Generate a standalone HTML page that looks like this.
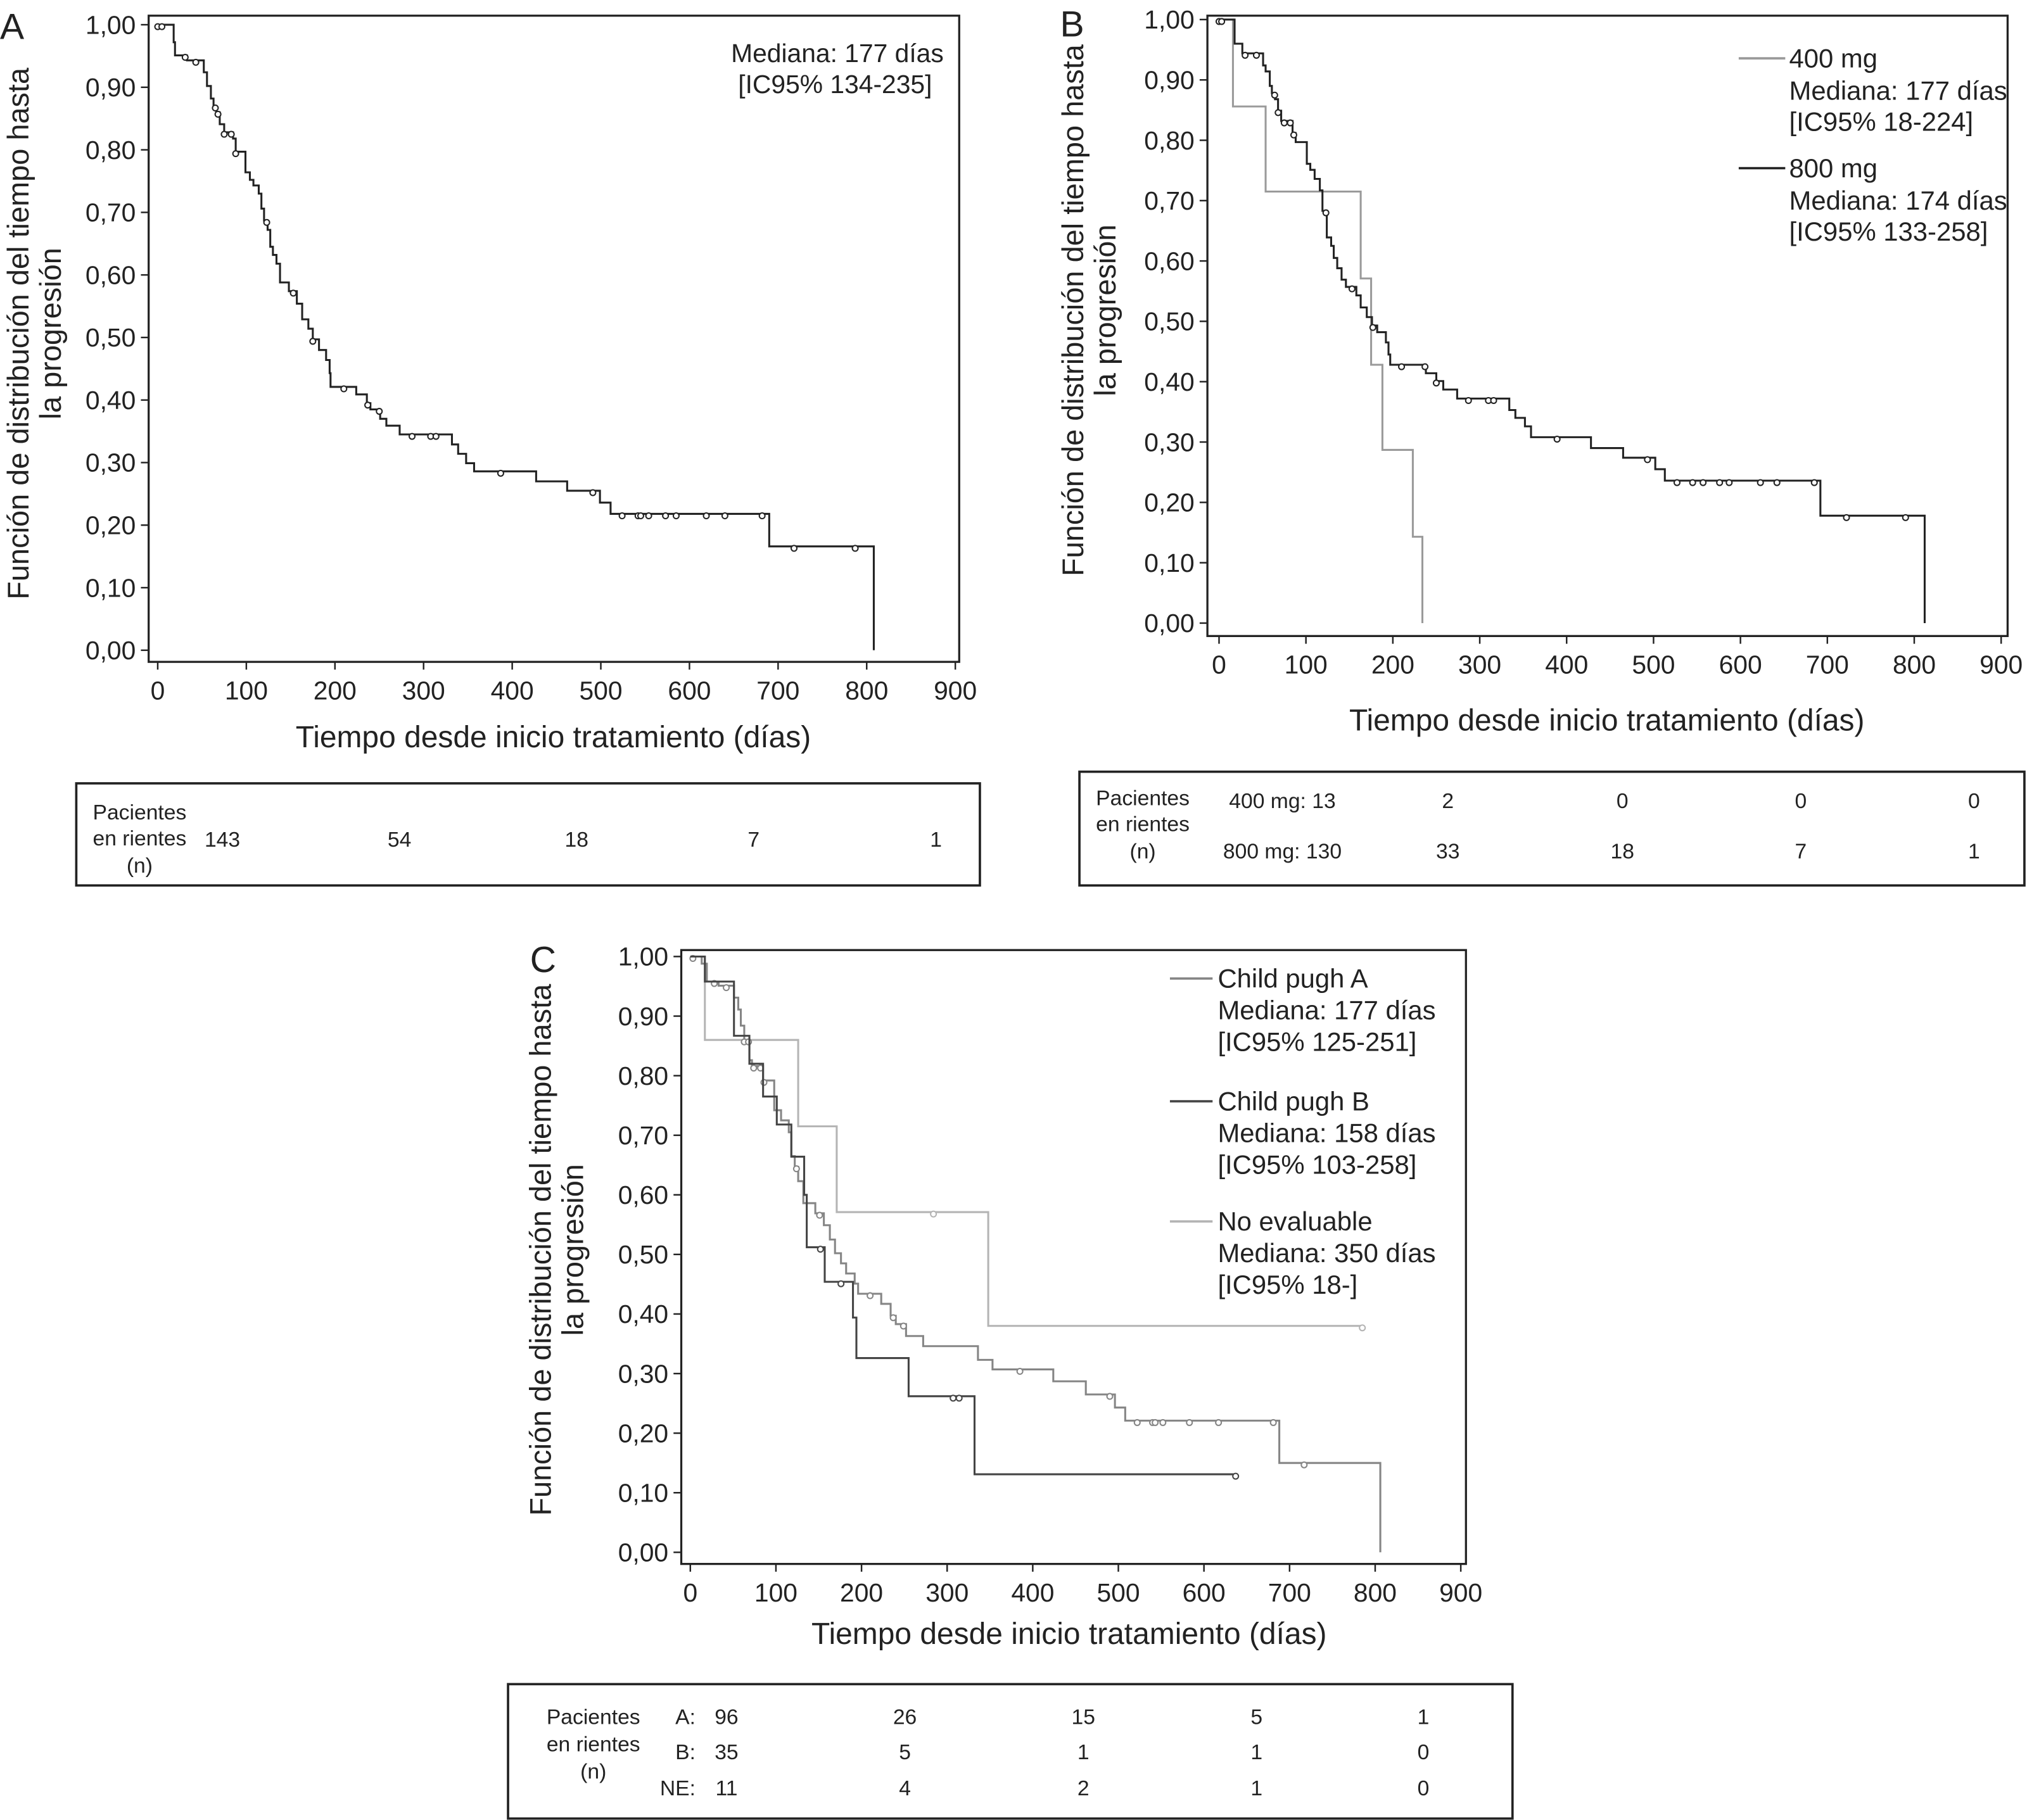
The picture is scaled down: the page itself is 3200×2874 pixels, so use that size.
<!DOCTYPE html>
<html><head><meta charset="utf-8"><style>
html,body{margin:0;padding:0;background:#fff;}
svg{display:block;}
text{font-family:"Liberation Sans",sans-serif;fill:#222;}
</style></head><body>
<svg id="s" width="3200" height="2874" viewBox="0 0 1568 1408" xmlns="http://www.w3.org/2000/svg">
<g id="root"></g>
</svg>
<script>
// ---------- Data ----------
const xTicks = [0,100,200,300,400,500,600,700,800,900];
const yTicks = [0,0.1,0.2,0.3,0.4,0.5,0.6,0.7,0.8,0.9,1.0];
const yTickLabels = ["0,00","0,10","0,20","0,30","0,40","0,50","0,60","0,70","0,80","0,90","1,00"];

// Panel A: step times (days) and survival after step
const aTimes = [18,19.5,33,52,55.6,60,63,66,70,75,85,88,99,104,108,114,117,120,124,127,130,134,138,148,157,163,170,175,182,190,194,195,224,236,240,251,258,273,332,339,348,357,427,462,499,511,690,808];
const aSurv  = [.972,.951,.943,.924,.902,.882,.870,.860,.841,.828,.818,.797,.764,.752,.743,.730,.706,.687,.672,.645,.632,.618,.588,.574,.554,.529,.514,.497,.480,.464,.443,.421,.409,.395,.385,.370,.359,.345,.329,.314,.299,.286,.270,.255,.236,.218,.166,0];
const aCens  = [0,4.7,31,43,65,68,75,83,88,123,153,175,210,237,250,287,308,314,387,491,524,542,545,554,573,585,619,640,682,718,787];

// Panel B
const b400Times = [16,53.6,163,175,188,223,234];
const b400Surv  = [.856,.715,.571,.428,.287,.143,0];
const b800Times = [17.9,26.8,50.7,53.6,58.4,60.8,64.4,67.9,71.5,84.6,88.2,101,105,110,116,119,124,129,132,136,141,146,158,163,170,176,182,192,195,197,238,250,258,274,334,341,352,359,428,465,502,513,692,812];
const b800Surv  = [.960,.944,.924,.914,.890,.878,.868,.849,.832,.812,.797,.761,.751,.736,.717,.683,.639,.625,.605,.588,.569,.557,.543,.523,.507,.493,.482,.465,.445,.428,.414,.401,.387,.372,.353,.340,.326,.308,.290,.274,.255,.236,.178,0];
const b800Cens  = [0,3,30,43,64,68,75,82,86,123,153,177,210,237,250,287,310,316,389,493,527,545,557,576,587,623,642,685,722,790];

// Panel C
const cATimes = [13.3,19.3,33,51,56,59,63,69,72,85,98,106,115,118,122,126,132,146,156,163,169,176,182,192,196,223,234,240,252,272,336,353,424,462,496,508,688,806];
const cASurv  = [.988,.958,.951,.931,.911,.884,.860,.826,.816,.792,.742,.725,.705,.665,.647,.623,.586,.569,.549,.525,.502,.485,.468,.451,.434,.417,.397,.383,.363,.346,.323,.307,.287,.265,.243,.221,.150,0];
const cACens  = [3,28,42,63,68,74,82,86,124,151,210,237,249,385,490,522,540,543,552,583,617,681,717];
const cBTimes = [17,51,69,85,101,118,133,136,157,190,194,255,332];
const cBSurv  = [.958,.867,.820,.765,.718,.664,.600,.512,.454,.394,.326,.262,.131];
const cBCens  = [152,176,307,314,637];
const cBEnd   = 637;
const cNTimes = [17,126,171,348];
const cNSurv  = [.860,.715,.571,.380];
const cNCens  = [284,785];
const cNEnd   = 785;

// ---------- Helpers ----------
const NS="http://www.w3.org/2000/svg";
const root=document.getElementById('root');
function mk(tag,attrs,parent){const e=document.createElementNS(NS,tag);for(const k in attrs)e.setAttribute(k,attrs[k]);(parent||root).appendChild(e);return e;}
function txt(str,x,y,size,anchor,parent){const t=mk('text',{x:x,y:y,'font-size':size,'text-anchor':anchor||'start'},parent);t.textContent=str;return t;}

function axes(p){
  const g=mk('g',{});
  
  
  const X=d=>p.x0+d*(p.x900-p.x0)/900, Y=s=>p.y0-s*(p.y0-p.y1);
  const fr=mk('rect',{x:p.bl,y:p.bt,width:p.br-p.bl,height:p.bb-p.bt,fill:'none',stroke:'#222','stroke-width':1.6},g);
  
  
  xTicks.forEach(v=>{
    mk('line',{x1:X(v),x2:X(v),y1:p.bb,y2:p.bb+6,stroke:'#222','stroke-width':1.2},g);
    const t=txt(String(v),X(v),p.bb+29,20,'middle',g);
    
    
  });
  yTicks.forEach((v,i)=>{
    mk('line',{x1:p.bl-6,x2:p.bl,y1:Y(v),y2:Y(v),stroke:'#222','stroke-width':1.2},g);
    const t=txt(yTickLabels[i],p.bl-10,Y(v)+7,20,'end',g);
    
    
  });
  const xt=txt('Tiempo desde inicio tratamiento (días)',p.xtx,p.xty,23.5,'middle',g);
  
  
  const yt=mk('text',{transform:`translate(${p.ytx},${p.yty}) rotate(-90)`,'font-size':23,'text-anchor':'middle'},g);
  
  
  const t1=mk('tspan',{x:0,y:0},yt);t1.textContent='Función de distribución del tiempo hasta';
  const t2=mk('tspan',{x:0,y:25},yt);t2.textContent='la progresión';
  const L=txt(p.letter,p.lx,p.ly,28,'start',g);
  
  
  return {X,Y};
}
function survAt(times,surv,t){let s=1;for(let i=0;i<times.length;i++){if(times[i]<=t)s=surv[i];}return s;}
function curve(ax,times,surv,cens,end,color,name,w){
  const {X,Y}=ax;
  let d=`M${X(0)},${Y(1)}`;
  times.forEach((t,i)=>{d+=` H${X(t)} V${Y(surv[i])}`;});
  if(end!=null)d+=` H${X(end)}`;
  const p=mk('path',{d:d,fill:'none',stroke:color,'stroke-width':w||1.5});
  
  
  cens.forEach(c=>{
    const ci=mk('circle',{cx:X(c),cy:Y(survAt(times,surv,c))+1.5,r:2.2,fill:'#fff',stroke:color,'stroke-width':1});
    
    
  });
}

// ---------- Panel A ----------
const axA=axes({name:'panel-a',bl:115,bt:12,br:742,bb:512,x0:122,x900:739,y0:503,y1:19,xtx:428,xty:578,ytx:22,yty:258,letter:'A',lx:0,ly:30});
curve(axA,aTimes,aSurv,aCens,null,'#222','panel-a');
txt('Mediana: 177 días',730,48,20,'end');
txt('[IC95% 134-235]',646,72,20,'middle');

// ---------- Panel B ----------
const axB=axes({name:'panel-b',bl:934,bt:12,br:1553,bb:492,x0:943,x900:1548,y0:482,y1:15,xtx:1243,xty:565,ytx:838,yty:240,letter:'B',lx:820,ly:28});
curve(axB,b400Times,b400Surv,[],null,'#9a9a9a','dose-400mg');
curve(axB,b800Times,b800Surv,b800Cens,null,'#222','dose-800mg');
mk('line',{x1:1345,x2:1381,y1:45,y2:45,stroke:'#9a9a9a','stroke-width':1.8});
txt('400 mg',1384,52,20.5);txt('Mediana: 177 días',1384,77,20.5);txt('[IC95% 18-224]',1384,101,20.5);
mk('line',{x1:1345,x2:1381,y1:130,y2:130,stroke:'#222','stroke-width':1.8});
txt('800 mg',1384,137,20.5);txt('Mediana: 174 días',1384,162,20.5);txt('[IC95% 133-258]',1384,186,20.5);

// ---------- Panel C ----------
const axC=axes({name:'panel-c',bl:527,bt:735,br:1134,bb:1210,x0:534,x900:1130,y0:1201,y1:740,xtx:827,xty:1272,ytx:426,yty:967,letter:'C',lx:410,ly:752});
curve(axC,cNTimes,cNSurv,cNCens,cNEnd,'#b4b4b4','no-evaluable');
curve(axC,cATimes,cASurv,cACens,null,'#858585','child-pugh-a');
curve(axC,cBTimes,cBSurv,cBCens,cBEnd,'#444','child-pugh-b');
[['#858585',757,['Child pugh A','Mediana: 177 días','[IC95% 125-251]']],
 ['#444',852,['Child pugh B','Mediana: 158 días','[IC95% 103-258]']],
 ['#b4b4b4',945,['No evaluable','Mediana: 350 días','[IC95% 18-]']]].forEach(([c,y,ls])=>{
  mk('line',{x1:905,x2:938,y1:y,y2:y,stroke:c,'stroke-width':1.8});
  ls.forEach((l,i)=>txt(l,942,y+7+i*24.5,20.5));
});

// ---------- Tables ----------
function box(x,y,w,h,name){const r=mk('rect',{x:x,y:y,width:w,height:h,fill:'none',stroke:'#222','stroke-width':1.8});}
box(59,606,699,79,'panel-a-risk-table');
txt('Pacientes',108,634,16.5,'middle');txt('en rientes',108,654,16.5,'middle');txt('(n)',108,675,16.5,'middle');
const riskA=['143','54','18','7','1'];const riskAX=[172,309,446,583,724];
riskA.forEach((v,i)=>txt(v,riskAX[i],655,16.5,'middle'));

box(835,597,731,88,'panel-b-risk-table');
txt('Pacientes',884,623,16.5,'middle');txt('en rientes',884,643,16.5,'middle');txt('(n)',884,664,16.5,'middle');
txt('400 mg: 13',992,625,16.5,'middle');txt('800 mg: 130',992,664,16.5,'middle');
const risk400=['2','0','0','0'];const risk800=['33','18','7','1'];const riskBX=[1120,1255,1393,1527];
risk400.forEach((v,i)=>txt(v,riskBX[i],625,16.5,'middle'));
risk800.forEach((v,i)=>txt(v,riskBX[i],664,16.5,'middle'));

box(393,1303,777,104,'panel-c-risk-table');
txt('Pacientes',459,1334,16.5,'middle');txt('en rientes',459,1355,16.5,'middle');txt('(n)',459,1376,16.5,'middle');
const riskCRows=[['A:',['96','26','15','5','1'],1334],['B:',['35','5','1','1','0'],1361],['NE:',['11','4','2','1','0'],1389]];
const riskCX=[562,700,838,972,1101];
riskCRows.forEach(([lab,vals,y])=>{txt(lab,538,y,16.5,'end');vals.forEach((v,i)=>txt(v,riskCX[i],y,16.5,'middle'));});
</script>
</body></html>
